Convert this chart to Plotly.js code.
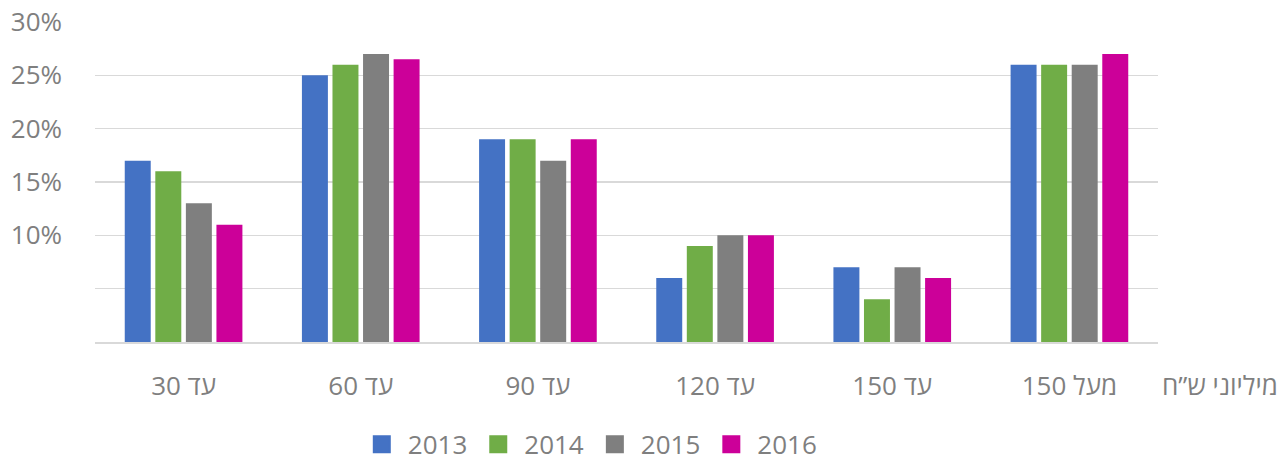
<!DOCTYPE html>
<html>
<head>
<meta charset="utf-8">
<script src="https://cdn.plot.ly/plotly-3.0.1.min.js"></script>
<style>html,body{margin:0;padding:0;background:#fff;}#chart{width:1284px;height:463px;}</style>
</head>
<body>
<div id="chart"></div>
<script>
const categories = ["\u202Bעד 30\u202C", "\u202Bעד 60\u202C", "\u202Bעד 90\u202C", "\u202Bעד 120\u202C", "\u202Bעד 150\u202C", "\u202Bמעל 150\u202C"];
const years = ["2013", "2014", "2015", "2016"];
const v2013 = [17, 25, 19, 6, 7, 26];
const v2014 = [16, 26, 19, 9, 4, 26];
const v2015 = [13, 27, 17, 10, 7, 26];
const v2016 = [11, 26.5, 19, 10, 6, 27];
const colors = ["#4472C4", "#70AD47", "#7F7F7F", "#CC0099"];
const yTickVals = [0, 5, 10, 15, 20, 25, 30];
const yTickText = ["", "", "10%", "15%", "20%", "25%", "30%"];
const axisTitle = "מיליוני ש\u201Dח";

const series = [v2013, v2014, v2015, v2016];
const FONT = "Open Sans, Noto Sans, DejaVu Sans, sans-serif";
const gray = "#7f7f7f";
const FS = 26;

const traces = series.map((vals, i) => ({
  type: "bar",
  name: years[i],
  x: categories,
  y: vals,
  marker: {color: colors[i]},
  showlegend: false,
  hoverinfo: "skip"
}));
years.forEach((yr, i) => traces.push({
  type: "scatter", mode: "markers", name: yr,
  x: [null], y: [null],
  marker: {symbol: "square", size: 16, color: colors[i], line: {width: 2, color: colors[i]}},
  showlegend: true, hoverinfo: "skip"
}));

const layout = {
  width: 1284, height: 463,
  margin: {l: 95, r: 126, t: 22, b: 121, autoexpand: false},
  paper_bgcolor: "#fff", plot_bgcolor: "#fff",
  barmode: "group",
  bargap: 0.31,
  bargroupgap: 0.15,
  font: {family: FONT, color: gray, size: FS},
  xaxis: {
    showgrid: false, zeroline: false, showline: true, linecolor: "#d9d9d9", linewidth: 1.5,
    ticks: "", tickfont: {size: FS, color: gray}, ticklabelstandoff: 20
  },
  yaxis: {
    range: [0, 30], tickvals: yTickVals, ticktext: yTickText,
    showgrid: true, gridcolor: "#d9d9d9", gridwidth: 1.5, zeroline: false, showline: false,
    ticks: "", tickfont: {size: FS, color: gray}, ticklabelstandoff: 32
  },
  showlegend: true,
  legend: {
    orientation: "h", x: 0.465, xanchor: "center", y: -0.320, yanchor: "middle",
    font: {size: FS, color: gray}, traceorder: "normal",
    itemwidth: 42
  },
  annotations: [{
    text: axisTitle, xref: "paper", yref: "paper", x: 1.002, xanchor: "left",
    y: -0.134, yanchor: "middle", showarrow: false, font: {size: FS, color: gray}
  }]
};

Plotly.newPlot("chart", traces, layout, {displayModeBar: false, staticPlot: true});
</script>
</body>
</html>
